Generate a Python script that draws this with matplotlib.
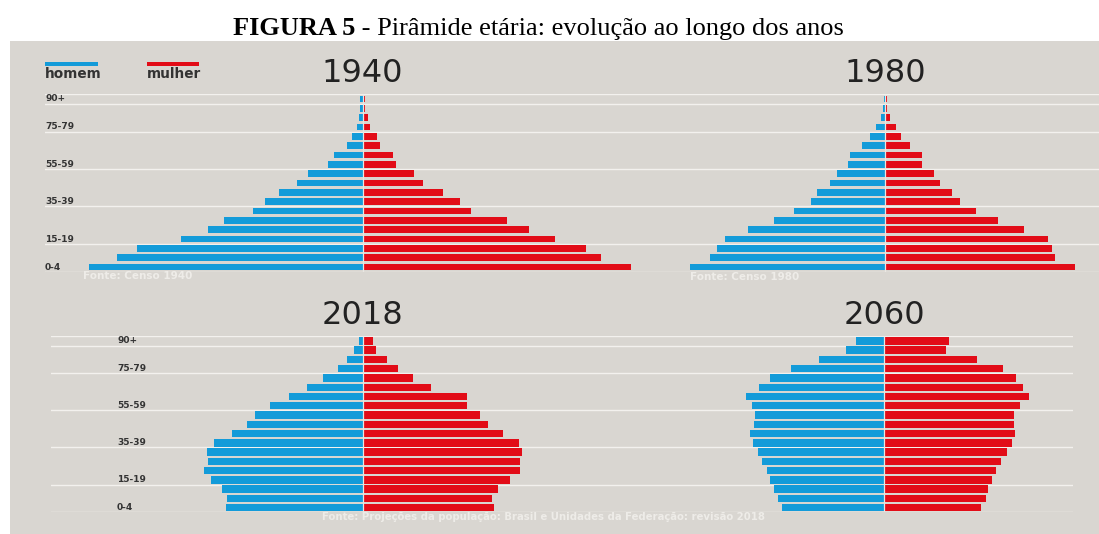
import matplotlib
matplotlib.use("Agg")
import matplotlib.pyplot as plt
from matplotlib.patches import Rectangle
import numpy as np

faixas = ['0-4', '5-9', '10-14', '15-19', '20-24', '25-29', '30-34', '35-39',
          '40-44', '45-49', '50-54', '55-59', '60-64', '65-69', '70-74',
          '75-79', '80-84', '85-89', '90+']
faixas_rotulo = ['90+', '75-79', '55-59', '35-39', '15-19', '0-4']

# larguras relativas (0-4 ... 90+)
homem_1940 = [274, 246, 226, 182, 155, 139, 110, 98, 84, 66, 55, 35, 29, 16, 11, 6, 4, 2.5, 2.5]
mulher_1940 = [268, 238, 223, 192, 166, 144, 108, 97, 80, 60, 51, 33, 30, 17, 14, 7.5, 5.4, 2.6, 2.6]

homem_1980 = [195, 175, 168, 160, 137, 111, 91, 74, 68, 55, 48, 37.5, 35, 23.5, 15.5, 9.5, 4.2, 2.5, 1]
mulher_1980 = [190, 170, 167, 163, 139, 113, 91, 75, 67, 55, 49, 36.5, 36.5, 24.5, 16, 11, 4.6, 2, 1.5]

homem_2018 = [137.5, 136, 141, 152.5, 159, 155.5, 156, 149, 131, 116.5, 108, 93, 74.5, 56.5, 40, 25.5, 16, 9, 4]
mulher_2018 = [131, 129, 135, 146.5, 157, 156.5, 159, 155.5, 139.5, 124.5, 116.5, 103.5, 103.5, 67.5, 50, 35, 23.5, 12.5, 10]

homem_2060 = [102, 106, 110, 114, 117, 122, 126, 131.5, 134, 130.5, 129, 132, 138, 125, 114, 93, 65.5, 38.5, 28.5]
mulher_2060 = [97, 102, 104, 108, 111.5, 117, 122.5, 128, 130.5, 129.5, 129.5, 136, 145, 139, 132, 119, 93, 62, 65]

fontes = ['Fonte: Censo 1940', 'Fonte: Censo 1980',
          'Fonte: Projeções da população: Brasil e Unidades da Federação: revisão 2018']

AZUL = '#139bd9'
VERMELHO = '#e20c17'
FUNDO = '#d9d6d1'
LINHA = '#f3f1ee'
TEXTO = '#333333'

W, H = 1099, 534
fig = plt.figure(figsize=(W / 100, H / 100), dpi=100)
fig.patch.set_facecolor('white')


def fx(px):
    return px / W


def fy(py):
    return 1 - py / H


# fundo cinza
fig.add_artist(Rectangle((fx(10), 0), 1 - fx(10), fy(41), transform=fig.transFigure,
                         facecolor=FUNDO, edgecolor='none', zorder=0))

# titulo
fig.text(fx(355), fy(35), 'FIGURA 5', ha='right', va='baseline', fontsize=19,
         fontweight='bold', family='Liberation Serif')
fig.text(fx(355), fy(35), ' - Pirâmide etária: evolução ao longo dos anos', ha='left',
         va='baseline', fontsize=19, family='Liberation Serif')

# legenda
for x0, x1, cor, nome in [(45, 98, AZUL, 'homem'), (147, 199, VERMELHO, 'mulher')]:
    fig.add_artist(Rectangle((fx(x0), fy(65.7)), fx(x1 - x0), 4 / H, transform=fig.transFigure,
                             facecolor=cor, edgecolor='none'))
    fig.text(fx(x0), fy(77.5), nome, ha='left', va='baseline', fontsize=9.8,
             fontweight='bold', color=TEXTO)

y = np.arange(len(faixas))
paineis = [
    # (esq, dir, topo, base em px), centro px, ano, homem, mulher, altura barra, x rotulo, ordem
    ((45, 550, 94.3, 271.7), 362.5, '1940', homem_1940, mulher_1940, 0.74, 0.0, 3),
    ((550, 1099, 94.3, 271.7), 885, '1980', homem_1980, mulher_1980, 0.74, None, 1),
    ((51, 550, 336.3, 512.3), 363, '2018', homem_2018, mulher_2018, 0.8, (117 - 51) / 499, 3),
    ((550, 1073, 336.3, 512.3), 884.4, '2060', homem_2060, mulher_2060, 0.8, None, 1),
]

for (x0, x1, y0, y1), centro, ano, homem, mulher, alt, xrot, ordem in paineis:
    ax = fig.add_axes([fx(x0), fy(y1), fx(x1 - x0), (y1 - y0) / H])
    ax.set_zorder(ordem)
    ax.set_xlim(x0 - centro, x1 - centro)
    ax.set_ylim(-0.5, 18.5)
    ax.axis('off')
    for yl in [18.5, 17.5, 14.5, 10.5, 6.5, 2.5, -0.5]:
        ax.axhline(yl, color=LINHA, lw=1.0, zorder=1)
    ax.barh(y, -np.array(homem), height=alt, color=AZUL, zorder=2, clip_on=False)
    ax.barh(y, mulher, height=alt, color=VERMELHO, zorder=2, clip_on=False)
    ax.plot([0, 0], [-0.45, 18.45], color='#e9e7e3', lw=0.9, zorder=3)
    ax.annotate(ano, xy=(0, 1), xycoords=('data', 'axes fraction'), xytext=(0, 9.2),
                textcoords='offset points', ha='center', va='baseline',
                fontsize=23, color='#222222')
    if xrot is not None:
        for rot in faixas_rotulo:
            ax.text(xrot, faixas.index(rot), rot, transform=ax.get_yaxis_transform(),
                    ha='left', va='center', fontsize=6.5, fontweight='bold', color=TEXTO)

# fontes
fig.text(fx(83), fy(276), fontes[0], ha='left', va='center', fontsize=7.5,
         fontweight='bold', color='#eeece8')
fig.text(fx(690), fy(277), fontes[1], ha='left', va='center', fontsize=7.5,
         fontweight='bold', color='#eeece8')
fig.text(fx(543), fy(517), fontes[2], ha='center', va='center', fontsize=7.3,
         fontweight='bold', color='#eeece8')

fig.savefig('out.png', dpi=100, facecolor=fig.get_facecolor())
